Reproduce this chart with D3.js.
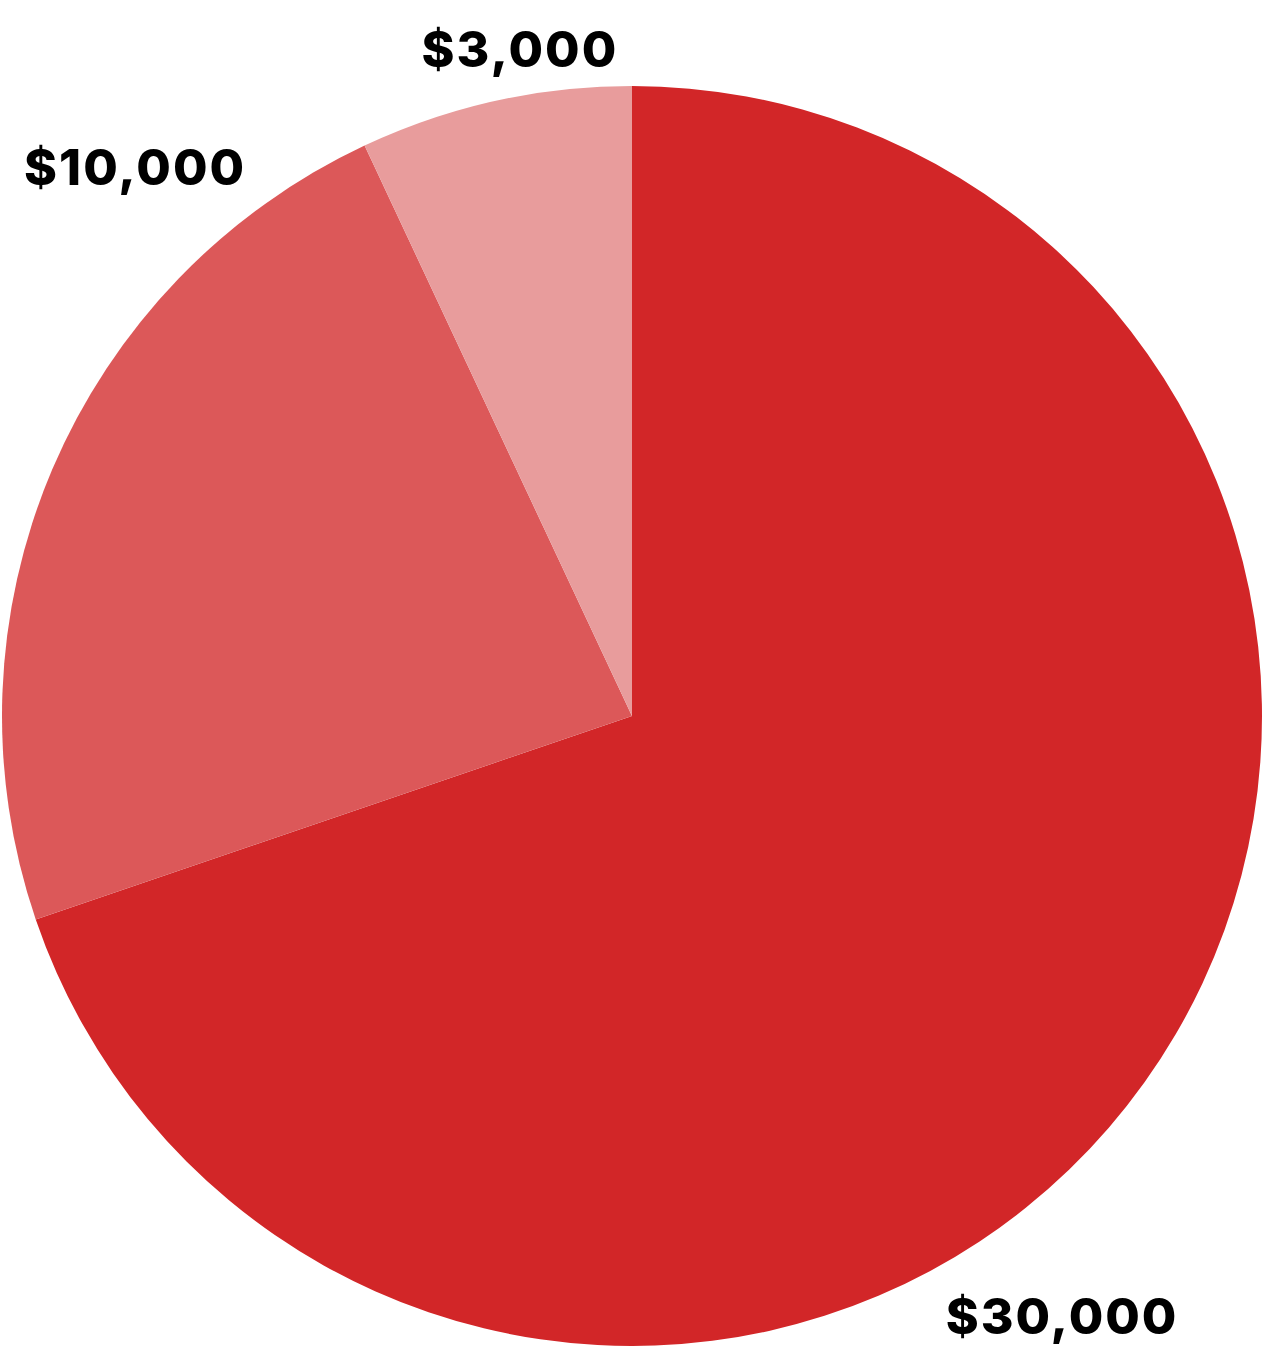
<!DOCTYPE html>
<html>
<head>
<meta charset="utf-8">
<script src="https://cdn.jsdelivr.net/npm/d3@7"></script>
<style>
  html, body { margin: 0; padding: 0; background: #fff; }
  svg { display: block; }
  text { font-family: Inter, "Open Sans", sans-serif; font-weight: 800; }
</style>
</head>
<body>
<svg id="chart" width="1262" height="1346"></svg>
<script>
const categories = ["A", "B", "C"];
const values = [30000, 10000, 3000];
const labels = ["$30,000", "$10,000", "$3,000"];
const colors = ["#D22628", "#DC5859", "#E89C9C"];

const W = 1262, H = 1346;
const cx = 632, cy = 716, R = 630;

const svg = d3.select("#chart");
const g = svg.append("g").attr("transform", `translate(${cx},${cy})`);

const data = categories.map((c, i) => ({ cat: c, value: values[i], label: labels[i], color: colors[i] }));

const pie = d3.pie().value(d => d.value).sort(null);
const arc = d3.arc().innerRadius(0).outerRadius(R);
const arcs = pie(data);

g.selectAll("path.slice")
  .data(arcs)
  .join("path")
  .attr("class", "slice")
  .attr("d", arc)
  .attr("fill", d => d.data.color);

// label placement (baseline point): fraction along slice angle, radius
const labelLayout = [
  { t: 0.578, r: 753 },
  { t: 0.785, r: 727 },
  { t: 0.61, r: 659 }
];

g.selectAll("text.lbl")
  .data(arcs)
  .join("text")
  .attr("class", "lbl")
  .each(function(d, i) {
    const L = labelLayout[i];
    const a = d.startAngle + (d.endAngle - d.startAngle) * L.t;
    d3.select(this)
      .attr("x", Math.sin(a) * L.r)
      .attr("y", -Math.cos(a) * L.r)
      .attr("text-anchor", "middle");
  })
  .attr("font-size", 50)
  .attr("letter-spacing", 2)
  .attr("fill", "#000")
  .text(d => d.data.label);
</script>
</body>
</html>
